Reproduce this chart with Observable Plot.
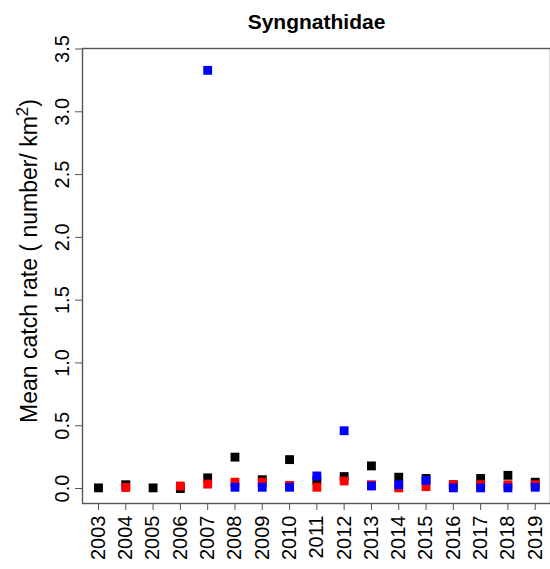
<!DOCTYPE html>
<html><head><meta charset="utf-8">
<script src="https://cdn.jsdelivr.net/npm/d3@7"></script>
<script src="https://cdn.jsdelivr.net/npm/@observablehq/plot@0.6"></script>
<style>body{margin:0;background:#fff} svg{display:block}</style>
</head><body><div id="chart"></div>
<script>
const years = [2003,2004,2005,2006,2007,2008,2009,2010,2011,2012,2013,2014,2015,2016,2017,2018,2019];
const blackSeries = [0.005,0.03,0.005,0.0,0.085,0.25,0.07,0.23,0.065,0.095,0.18,0.09,0.08,0.03,0.08,0.105,0.05];
const redSeries   = [null,0.008,null,0.02,0.035,0.05,0.05,0.025,0.01,0.06,0.03,0.005,0.015,0.03,0.03,0.03,0.03];
const blueSeries  = [null,null,null,null,3.33,0.01,0.01,0.01,0.10,0.46,0.02,0.03,0.065,0.005,0.005,0.005,0.01];
const yTicks = [0,0.5,1,1.5,2,2.5,3,3.5];
const title = "Syngnathidae";

const rows = (vals, s) => years.map((y,i)=>({year:y, value:vals[i], series:s})).filter(d=>d.value!=null);
const data = [...rows(blackSeries,"black"), ...rows(redSeries,"red"), ...rows(blueSeries,"blue")];

const font = "Liberation Sans, Arial, sans-serif";
const chart = Plot.plot({
  width: 550, height: 569,
  marginLeft: 82, marginRight: 0, marginTop: 48, marginBottom: 66,
  style: {fontFamily: font, fontSize: "20px", background: "#fff", color: "#000"},
  x: {domain: [2002.414, 2019.56]},
  y: {domain: [-0.1194, 3.504]},
  color: {domain: ["black","red","blue"], range: ["#000000","#ff0000","#0000ff"]},
  marks: [
    Plot.frame({stroke: "#555", strokeWidth: 1.4}),
    Plot.axisX(years, {tickSize: 7, tickPadding: 5, tickRotate: -90, textAnchor: "end", fontSize: 20, tickFormat: d => String(d), label: null, stroke: "#555"}),
    Plot.axisY(yTicks, {tickSize: 7, tickPadding: 7, tickRotate: -90, textAnchor: "middle", fontSize: 20, tickFormat: d => d.toFixed(1), label: null, stroke: "#555"}),
    Plot.dot(data, {x: "year", y: "value", fill: "series", symbol: "square", r: 5, stroke: null}),
    Plot.text([title], {frameAnchor: "top", lineAnchor: "bottom", dy: -20, fontWeight: "bold", fontSize: 21})
  ]
});
const svg = d3.select(chart);
const lab = svg.append("text")
  .attr("transform", "translate(37,261) rotate(-90)")
  .attr("text-anchor", "middle")
  .attr("font-family", font)
  .attr("font-size", 23)
  .attr("fill", "#000");
lab.append("tspan").text("Mean catch rate ( number/ km");
lab.append("tspan").attr("baseline-shift", "super").attr("font-size", 17).text("2");
lab.append("tspan").text(")");
document.getElementById("chart").appendChild(chart);
</script>
</body></html>
